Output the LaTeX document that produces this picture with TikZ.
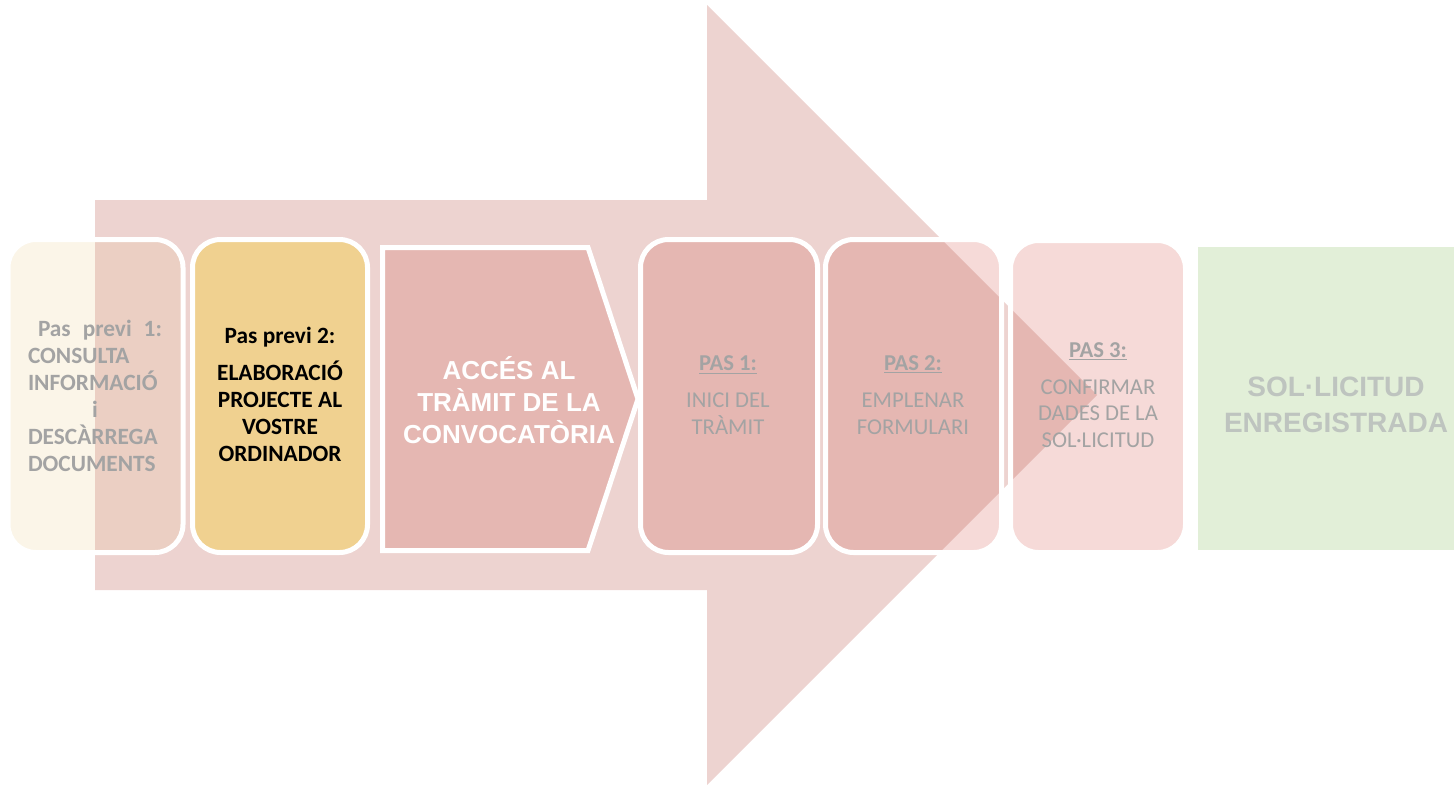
\documentclass[tikz,border=0pt]{standalone}
\usepackage{fontspec}
\setmainfont{Carlito}
\newfontfamily\arialfont{Liberation Sans}
\definecolor{arrowc}{HTML}{EDD3D0}
\definecolor{boxdark}{HTML}{E5B7B2}
\definecolor{boxlight}{HTML}{F6DAD8}
\definecolor{creamc}{HTML}{FBF5E8}
\definecolor{creamdark}{HTML}{EBCFC3}
\definecolor{goldc}{HTML}{F0D190}
\definecolor{greenc}{HTML}{E2EFD8}
\definecolor{txtgray}{HTML}{A3A3A3}
\definecolor{txtfinal}{HTML}{BEC4BF}
\newcommand\tintbox[6]{%
  \fill[#5, rounded corners=21pt] (#1,#2) rectangle (#3,#4);
  \begin{scope}
    \clip[rounded corners=21pt] (#1,#2) rectangle (#3,#4);
    \fill[#6, bigarrow];
  \end{scope}
  \draw[boxline] (#1,#2) rectangle (#3,#4);}
\begin{document}
\begin{tikzpicture}[x=0.75pt,y=-0.75pt,
  bigarrow/.style={insert path={(95,200) -- (707,200) -- (707,5) -- (1097,395) -- (707,785) -- (707,590) -- (95,590) -- cycle}},
  boxline/.style={draw=white, line width=3.75pt, rounded corners=21pt},
  calib/.style={inner sep=0pt, align=center, font=\fontsize{17.5pt}{20.25pt}\selectfont\bfseries},
  pastxt/.style={inner sep=0pt, align=center, text=txtgray, font=\fontsize{17pt}{20pt}\selectfont},
  arialtxt/.style={inner sep=0pt, align=center}]
\useasboundingbox (0,0) rectangle (1454,785);
% big background arrow
\fill[arrowc, bigarrow];
% box 1
\tintbox{8}{239.5}{183}{552.5}{creamc}{creamdark}
% box 2
\fill[goldc, rounded corners=21pt] (192.5,239.5) rectangle (367.5,552.5);
\draw[boxline] (192.5,239.5) rectangle (367.5,552.5);
% chevron
\filldraw[fill=boxdark, draw=white, line width=3.75pt, line join=miter]
  (382.5,247.5) -- (588,247.5) -- (638,399) -- (588,550.5) -- (382.5,550.5) -- cycle;
% PAS boxes
\tintbox{640.5}{239.5}{817.5}{552.5}{boxlight}{boxdark}
\tintbox{825.5}{239.5}{1001.5}{552.5}{boxlight}{boxdark}
\tintbox{1010.5}{240.5}{1185.5}{552.5}{boxlight}{boxdark}
% final box
\fill[greenc] (1198,247) rectangle (1454,550);
% texts
\node[calib, text=txtgray, text width=100.5pt, align=left] (t1) at (95,396)
  {\hspace*{7.5pt}\makebox[93pt][s]{Pas\hfill previ\hfill 1:}\\CONSULTA\\INFORMACIÓ\\\makebox[100.5pt]{i}\\DESCÀRREGA\\DOCUMENTS};
\node[calib, text=black] (t2) at (280,394)
  {Pas previ 2:\\[7.5pt]ELABORACIÓ\\PROJECTE AL\\VOSTRE\\ORDINADOR};
\node[arialtxt, text=white, font=\arialfont\bfseries\fontsize{19.5pt}{24pt}\selectfont] (t3) at (509,400)
  {ACCÉS AL\\TRÀMIT DE LA\\CONVOCATÒRIA};
\node[pastxt] (t4) at (728,395)
  {\textbf{\underline{PAS 1:}}\\[7.5pt]INICI DEL\\TRÀMIT};
\node[pastxt] (t5) at (913,395)
  {\textbf{\underline{PAS 2:}}\\[7.5pt]EMPLENAR\\FORMULARI};
\node[pastxt] (t6) at (1098,395)
  {\textbf{\underline{PAS 3:}}\\[7.5pt]CONFIRMAR\\DADES DE LA\\SOL·LICITUD};
\node[arialtxt, text=txtfinal, font=\arialfont\bfseries\fontsize{21pt}{27pt}\selectfont] (t7) at (1336,405)
  {SOL·LICITUD\\ENREGISTRADA};
\end{tikzpicture}
\end{document}
